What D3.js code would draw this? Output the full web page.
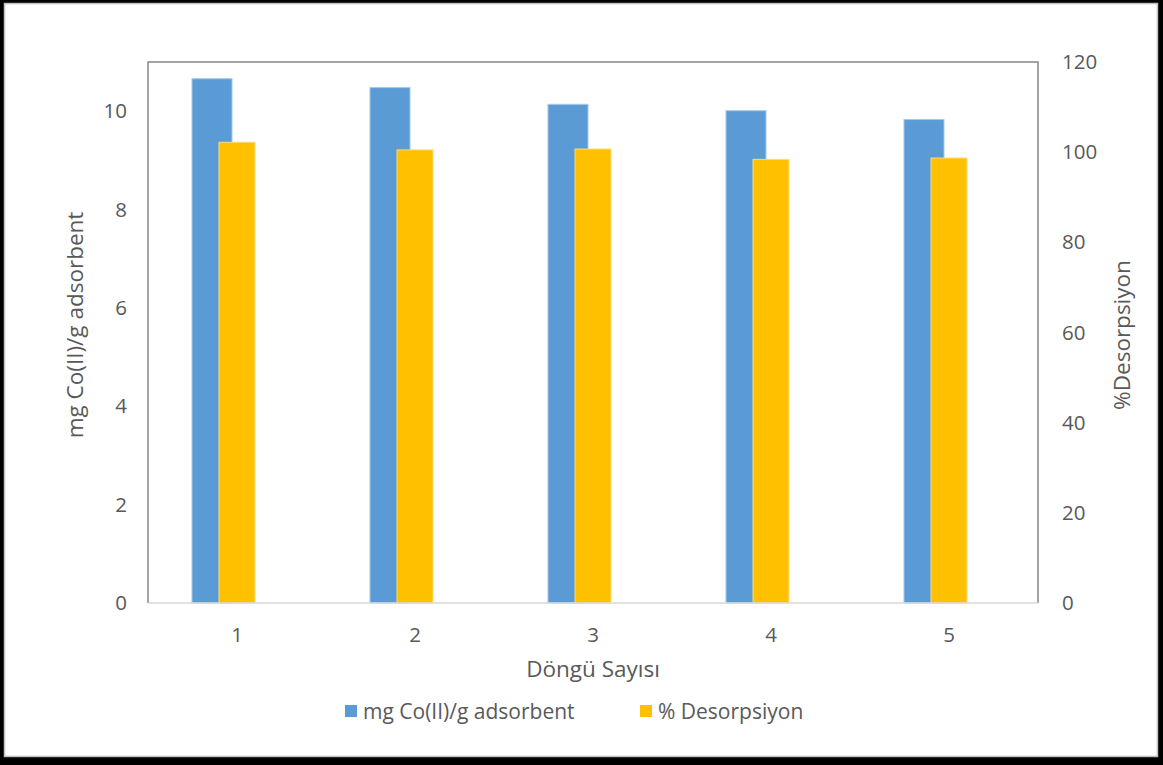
<!DOCTYPE html>
<html>
<head>
<meta charset="utf-8">
<script src="https://cdn.jsdelivr.net/npm/d3@7"></script>
<style>
  html, body { margin: 0; padding: 0; background: #fff; }
  svg { display: block; }
  text { font-family: "Open Sans", sans-serif; fill: #595959; }
</style>
</head>
<body>
<script>
const categories = ["1", "2", "3", "4", "5"];
const adsorbed = [10.66, 10.48, 10.14, 10.01, 9.83];      // mg Co(II)/g adsorbent (left axis)
const desorption = [102.2, 100.5, 100.7, 98.4, 98.7];     // % Desorpsiyon (right axis)
const leftTicks = [0, 2, 4, 6, 8, 10];
const rightTicks = [0, 20, 40, 60, 80, 100, 120];
const seriesNames = ["mg Co(II)/g adsorbent", "% Desorpsiyon"];
const xTitle = "Döngü Sayısı";
const yLeftTitle = "mg Co(II)/g adsorbent";
const yRightTitle = "%Desorpsiyon";

const W = 1163, H = 765;
const colors = ["#5b9bd5", "#ffc000"];
const strokes = ["#a9c9ea", "#ffdb70"];
const FONT = "'Open Sans', sans-serif";

const svg = d3.select("body").append("svg").attr("width", W).attr("height", H);

// outer frame
svg.append("rect").attr("x", 0).attr("y", 0).attr("width", W).attr("height", H).attr("fill", "#000");
svg.append("rect").attr("x", 4.5).attr("y", 3.5).attr("width", 1153).attr("height", 753)
  .attr("fill", "#fff").attr("stroke", "#bfbfbf").attr("stroke-width", 1.5);

const plot = { left: 148, right: 1038, top: 62, bottom: 603 };

const x = d3.scaleBand().domain(categories).range([plot.left, plot.right]).paddingInner(0).paddingOuter(0);
const yL = d3.scaleLinear().domain([0, 11]).range([plot.bottom, plot.top]);
const yR = d3.scaleLinear().domain([0, 120]).range([plot.bottom, plot.top]);

const bw = x.bandwidth();
const center = c => x(c) + bw / 2;

// bars - primary
svg.append("g").selectAll("rect").data(adsorbed).join("rect")
  .attr("x", (d, i) => center(categories[i]) - bw * 0.253)
  .attr("width", bw * 0.225)
  .attr("y", d => yL(d))
  .attr("height", d => yL(0) - yL(d))
  .attr("fill", colors[0]).attr("stroke", strokes[0]).attr("stroke-width", 1);

// bars - secondary
svg.append("g").selectAll("rect").data(desorption).join("rect")
  .attr("x", (d, i) => center(categories[i]) - bw * 0.101)
  .attr("width", bw * 0.202)
  .attr("y", d => yR(d))
  .attr("height", d => yR(0) - yR(d))
  .attr("fill", colors[1]).attr("stroke", strokes[1]).attr("stroke-width", 1);

// plot border (top, left, right)
svg.append("path")
  .attr("d", `M${plot.left},${plot.bottom} V${plot.top} H${plot.right} V${plot.bottom}`)
  .attr("fill", "none").attr("stroke", "#868686").attr("stroke-width", 1.5);
// bottom axis line
svg.append("line").attr("x1", plot.left).attr("x2", plot.right)
  .attr("y1", plot.bottom).attr("y2", plot.bottom)
  .attr("stroke", "#d9d9d9").attr("stroke-width", 1.5);

// axes
const fs = "20.5px";
function styleAxis(g) {
  g.select(".domain").remove();
  g.selectAll("text").style("font-size", fs).attr("fill", "#595959").style("font-family", FONT);
}
const gL = svg.append("g").attr("transform", `translate(${plot.left},0)`)
  .call(d3.axisLeft(yL).tickValues(leftTicks).tickSize(0).tickPadding(21).tickFormat(d3.format("d")));
styleAxis(gL);

const gR = svg.append("g").attr("transform", `translate(${plot.right},0)`)
  .call(d3.axisRight(yR).tickValues(rightTicks).tickSize(0).tickPadding(24).tickFormat(d3.format("d")));
styleAxis(gR);

const gX = svg.append("g").attr("transform", `translate(0,${plot.bottom})`)
  .call(d3.axisBottom(x).tickSize(0).tickPadding(24));
styleAxis(gX);

// titles
svg.append("text").attr("x", (plot.left + plot.right) / 2).attr("y", 677)
  .attr("text-anchor", "middle").style("font-size", "22.5px").text(xTitle);
svg.append("text").attr("transform", "translate(83,325) rotate(-90)")
  .attr("text-anchor", "middle").style("font-size", "22.5px").text(yLeftTitle);
svg.append("text").attr("transform", "translate(1130,335) rotate(-90)")
  .attr("text-anchor", "middle").style("font-size", "22.5px").text(yRightTitle);

// legend
const legendX = [345, 640];
const lg = svg.append("g");
seriesNames.forEach((name, i) => {
  lg.append("rect").attr("x", legendX[i]).attr("y", 705).attr("width", 12).attr("height", 12).attr("fill", colors[i]);
  lg.append("text").attr("x", legendX[i] + 18).attr("y", 719).style("font-size", "21px").text(name);
});
</script>
</body>
</html>
